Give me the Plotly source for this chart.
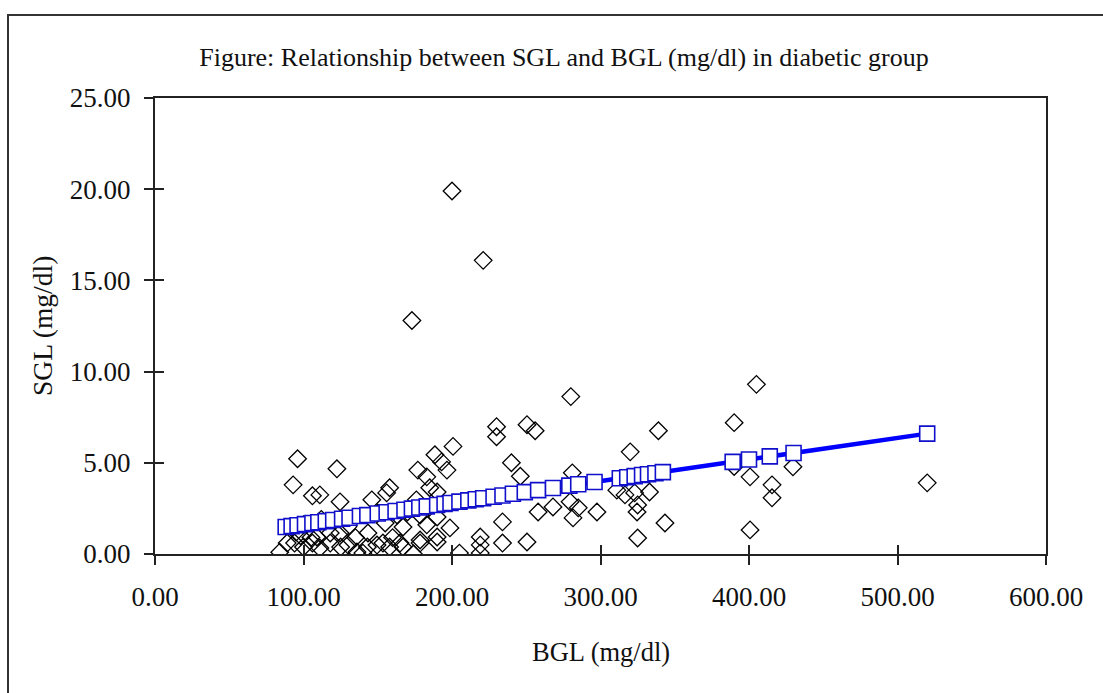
import plotly.graph_objects as go

bgl = [200, 221, 173, 280, 405, 390, 339, 230, 230, 250.5, 256,
       96, 93, 106, 122.5, 111, 124.6,
       146, 156, 158, 177, 183, 188.5, 193, 196.6, 200.7, 185, 176, 190,
       240, 246,
       89, 94, 100, 106, 111, 118, 125, 130, 136, 140, 143, 149.5, 153.5, 158,
       167, 174, 178.5, 190, 219, 219,
       198.6, 190, 178.5, 167, 165, 143.4, 124.6, 183, 190, 163, 170, 150, 178.5,
       205, 219, 234, 234,
       84, 109, 118, 95, 100, 105,
       98, 112, 130, 135, 155, 160,
       250.5, 258, 268, 279.5, 281.5, 285, 297.6, 311, 316.5, 323, 325, 324.6,
       325, 333, 343.4, 281, 320,
       400.7, 400.7, 429.6, 415.5, 415.5, 520, 390]
sgl = [19.9, 16.1, 12.8, 8.63, 9.3, 7.2, 6.76, 6.98, 6.43, 7.09, 6.76,
       5.22, 3.79, 3.19, 4.67, 3.24, 2.86,
       2.97, 3.35, 3.63, 4.6, 4.23, 5.44, 5.05, 4.6, 5.9, 3.63, 2.97, 3.4,
       5.0, 4.26,
       0.60, 0.60, 0.38, 0.60, 0.33, 0.60, 0.38, 0.49, 0.11, 0.05, 0.38, 0.49, 0.60, 0.38,
       0.38, 0.0, 0.6, 0.66, 0.05, 0.5,
       1.43, 0.93, 0.77, 1.48, 0.6, 1.15, 1.15, 1.6, 2.03, 2.14, 2.3, 2.25, 2.14,
       0.05, 0.93, 1.76, 0.6,
       0.1, 0.93, 1.15, 1.2, 1.6, 0.9,
       1.0, 1.9, 1.5, 0.9, 1.7, 0.9,
       0.66, 2.3, 2.58, 2.86, 1.98, 2.53, 2.3, 3.5, 3.24, 3.35, 2.69, 2.3,
       0.88, 3.4, 1.7, 4.45, 5.6,
       4.23, 1.32, 4.78, 3.79, 3.08, 3.9, 4.8]

# Predicted SGL (trend series) read from the blue squares
pred_x = [88, 92, 96, 101, 106, 110, 115, 120, 126, 131, 138, 143, 150, 156,
          162, 168, 173, 178, 183, 190, 195, 199, 205, 211, 216, 221, 228, 234,
          241, 249, 258, 268, 279, 285, 296, 313, 318, 323, 328, 332, 337, 342,
          389, 400, 414, 430, 520]
pred_y = [1.48, 1.53, 1.58, 1.64, 1.70, 1.74, 1.80, 1.86, 1.93, 1.99, 2.08,
          2.13, 2.22, 2.29, 2.36, 2.43, 2.49, 2.55, 2.61, 2.69, 2.75, 2.80,
          2.87, 2.94, 3.00, 3.06, 3.14, 3.21, 3.30, 3.39, 3.50, 3.62, 3.75,
          3.82, 3.95, 4.15, 4.21, 4.27, 4.33, 4.37, 4.43, 4.49, 5.05, 5.18,
          5.35, 5.54, 6.60]

x_ticks = [0, 100, 200, 300, 400, 500, 600]
y_ticks = [0, 5, 10, 15, 20, 25]

FONT = "Liberation Serif, Times New Roman, serif"
AX = "#222222"
TXT = "#111111"

fig = go.Figure()
fig.add_trace(go.Scatter(
    x=bgl, y=sgl, mode="markers", name="SGL",
    marker=dict(symbol="diamond-open", size=13.5, color="black",
                line=dict(color="black", width=1.3)),
    showlegend=False))
fig.add_trace(go.Scatter(
    x=pred_x, y=pred_y, mode="lines+markers", name="Predicted SGL",
    line=dict(color="#0000FF", width=4.5),
    marker=dict(symbol="square", size=15, color="white",
                line=dict(color="#1010CC", width=1.6)),
    showlegend=False))
# invisible helper trace for the overlay axes (inner tick halves)
fig.add_trace(go.Scatter(x=[0], y=[0], xaxis="x2", yaxis="y2", mode="markers",
                         marker=dict(opacity=0), hoverinfo="skip", showlegend=False))

axis_common = dict(showgrid=False, zeroline=False, showline=True, mirror=True,
                   linecolor=AX, linewidth=2, ticks="outside", ticklen=9,
                   tickwidth=2, tickcolor=AX, tickformat=".2f",
                   tickfont=dict(family=FONT, size=27, color=TXT))

fig.update_layout(
    width=1103, height=693,
    margin=dict(l=155, r=57, t=98, b=139),
    paper_bgcolor="white", plot_bgcolor="white",
    font=dict(family=FONT, color=TXT),
    xaxis=dict(range=[0, 600], tickvals=x_ticks, ticklabelstandoff=9, **axis_common),
    yaxis=dict(range=[0, 25], tickvals=y_ticks, ticklabelstandoff=8, **axis_common),
    xaxis2=dict(range=[0, 600], overlaying="x", tickvals=x_ticks, ticks="inside",
                ticklen=9, tickwidth=2, tickcolor=AX, showticklabels=False,
                showgrid=False, zeroline=False, showline=False, side="bottom"),
    yaxis2=dict(range=[0, 25], overlaying="y", tickvals=y_ticks, ticks="inside",
                ticklen=9, tickwidth=2, tickcolor=AX, showticklabels=False,
                showgrid=False, zeroline=False, showline=False, side="left"),
    title=dict(text="Figure: Relationship between SGL and BGL (mg/dl) in diabetic group",
               x=564 / 1103, xref="container", xanchor="center",
               y=1 - 57 / 693, yref="container", yanchor="middle",
               font=dict(family=FONT, size=26, color=TXT)),
    annotations=[
        dict(text="BGL (mg/dl)", xref="paper", yref="paper", x=0.5,
             y=(554 - 652) / 456, xanchor="center", yanchor="middle",
             showarrow=False, font=dict(family=FONT, size=26.5, color=TXT)),
        dict(text="SGL (mg/dl)", xref="paper", yref="paper",
             x=(42 - 155) / 891, y=(554 - 326) / 456, textangle=-90,
             xanchor="center", yanchor="middle", showarrow=False,
             font=dict(family=FONT, size=27.5, color=TXT)),
    ],
    shapes=[dict(type="rect", xref="paper", yref="paper",
                 x0=(8 - 155) / 891, x1=(1115 - 155) / 891,
                 y0=(554 - 705) / 456, y1=(554 - 15) / 456,
                 line=dict(color="#333333", width=2), fillcolor="rgba(0,0,0,0)",
                 layer="below")],
)

fig.write_html("out.html", config={"displayModeBar": False},
               post_script="document.body.style.margin='0';document.body.style.overflow='hidden';")
